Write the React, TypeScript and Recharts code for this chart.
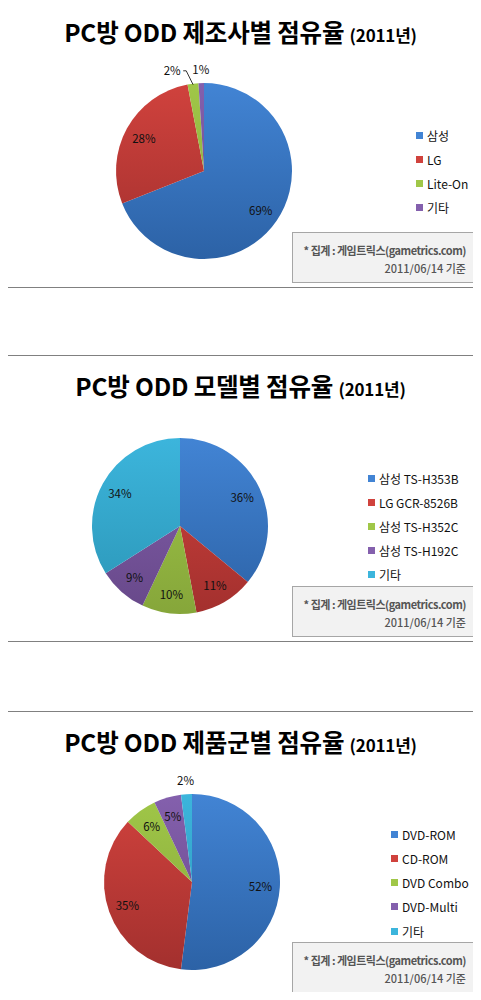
import React from 'react'
import { PieChart, Pie, Cell, Legend } from 'recharts'

// chart 1: 제조사별
const MAKER_NAMES = ['삼성', 'LG', 'Lite-On', '기타']
const MAKER_SHARE = [69, 28, 2, 1]

// chart 2: 모델별
const MODEL_NAMES = ['삼성 TS-H353B', 'LG GCR-8526B', '삼성 TS-H352C', '삼성 TS-H192C', '기타']
const MODEL_SHARE = [36, 11, 10, 9, 34]

// chart 3: 제품군별
const TYPE_NAMES = ['DVD-ROM', 'CD-ROM', 'DVD Combo', 'DVD-Multi', '기타']
const TYPE_SHARE = [52, 35, 6, 5, 2]

const TITLES = ['PC방 ODD 제조사별 점유율', 'PC방 ODD 모델별 점유율', 'PC방 ODD 제품군별 점유율']
const TITLE_YEAR = '(2011년)'
const SOURCE_LINE = '* 집계 : 게임트릭스(gametrics.com)'
const DATE_LINE = '2011/06/14 기준'

// light (top) / dark (bottom) per slice
const PALETTE = [
  ['#4284d4', '#2c62a6'],
  ['#d0423d', '#a3302e'],
  ['#a0c748', '#86a63a'],
  ['#8460ad', '#674889'],
  ['#3cb5dc', '#2b95b6'],
]

const FONT = "'Noto Sans CJK KR', 'Noto Sans', sans-serif"
const W = 481
const H = 289
const R = 88
const RADIAN = Math.PI / 180

interface Slice {
  name: string
  value: number
}

const build = (names: string[], values: number[]): Slice[] =>
  names.map((name, i) => ({ name, value: values[i] }))

const makeLabel = (data: Slice[]) => (props: any) => {
  const { cx, cy, midAngle, outerRadius, index, value } = props
  const cos = Math.cos(-midAngle * RADIAN)
  const sin = Math.sin(-midAngle * RADIAN)
  const small = value < 3
  if (!small) {
    const rr = outerRadius * 0.78
    return (
      <text
        x={cx + rr * cos}
        y={cy + rr * sin}
        textAnchor="middle"
        dominantBaseline="central"
        fontSize={11.5}
        fill="#111"
        fontFamily={FONT}
      >
        {value}%
      </text>
    )
  }
  const ro = outerRadius + 14
  let x = cx + ro * cos
  const y = cy + ro * sin
  const next = data[index + 1]
  const crowded = next && next.value < 3
  if (crowded) x -= 19
  return (
    <g>
      {crowded && (
        <polyline
          points={`${x + 11},${y + 1} ${x + 14},${y + 1} ${cx + (outerRadius - 1) * cos},${cy + (outerRadius - 1) * sin}`}
          fill="none"
          stroke="#000"
          strokeWidth={0.8}
        />
      )}
      <text
        x={x}
        y={y}
        textAnchor="middle"
        dominantBaseline="central"
        fontSize={11.5}
        fill="#111"
        fontFamily={FONT}
      >
        {value}%
      </text>
    </g>
  )
}

// legend drawn from the slice list so it keeps the data order
const makeLegend = (data: Slice[], gap: number) => () => (
  <div style={{ position: 'relative', fontFamily: FONT, fontSize: 12, color: '#111' }}>
    {data.map((d, i) => (
      <div
        key={d.name}
        style={{ position: 'absolute', top: i * gap, left: 0, height: 16, display: 'flex', alignItems: 'center', whiteSpace: 'nowrap' }}
      >
        <span style={{ display: 'inline-block', width: 7, height: 7, background: PALETTE[i][0], marginRight: 4 }} />
        <span>{d.name}</span>
      </div>
    ))}
  </div>
)

interface PanelProps {
  id: string
  top: number
  title: string
  data: Slice[]
  cx: number
  cy: number
  legendX: number
  legendY: number
  legendGap: number
}

function Panel({ id, top, title, data, cx, cy, legendX, legendY, legendGap }: PanelProps) {
  return (
    <div style={{ position: 'absolute', left: 0, top, width: W, height: H }}>
      <PieChart width={W} height={H} margin={{ top: 0, right: 0, bottom: 0, left: 0 }}>
        <defs>
          {PALETTE.map((c, i) => (
            <linearGradient
              key={i}
              id={`${id}-g${i}`}
              gradientUnits="userSpaceOnUse"
              x1={0}
              y1={cy - R}
              x2={0}
              y2={cy + R}
            >
              <stop offset="0%" stopColor={c[0]} />
              <stop offset="100%" stopColor={c[1]} />
            </linearGradient>
          ))}
        </defs>
        <Pie
          data={data}
          dataKey="value"
          nameKey="name"
          cx={cx}
          cy={cy}
          outerRadius={R}
          startAngle={90}
          endAngle={-270}
          stroke="none"
          label={makeLabel(data)}
          labelLine={false}
          isAnimationActive={false}
        >
          {data.map((d, i) => (
            <Cell key={d.name} fill={`url(#${id}-g${i})`} />
          ))}
        </Pie>
        <Legend
          layout="horizontal"
          verticalAlign="middle"
          align="center"
          content={makeLegend(data, legendGap)}
          wrapperStyle={{ left: legendX, top: legendY, width: 60, height: 10 }}
        />
      </PieChart>
      <div
        style={{
          position: 'absolute',
          left: 0,
          top: 22,
          right: 0,
          height: 20,
          textAlign: 'center',
          fontFamily: FONT,
          fontWeight: 700,
          fontSize: 24.5,
          lineHeight: '20px',
          color: '#000',
          letterSpacing: -0.2,
          whiteSpace: 'nowrap',
        }}
      >
        {title} <span style={{ fontSize: 17 }}>{TITLE_YEAR}</span>
      </div>
      <div
        style={{
          position: 'absolute',
          left: 292,
          top: 232,
          width: 183,
          height: 51,
          boxSizing: 'border-box',
          background: '#f2f2f2',
          border: '1px solid #a6a6a6',
          fontFamily: FONT,
          color: '#555',
          textAlign: 'right',
          paddingRight: 8,
          paddingTop: 8,
        }}
      >
        <div style={{ fontSize: 11, fontWeight: 700, lineHeight: '18px', letterSpacing: -0.5 }}>{SOURCE_LINE}</div>
        <div style={{ fontSize: 11, fontWeight: 500, lineHeight: '18px' }}>{DATE_LINE}</div>
      </div>
      {/* outer frame */}
      <div style={{ position: 'absolute', left: 1, top: 1, width: 1, height: H - 2, background: '#808080' }} />
      <div style={{ position: 'absolute', left: W - 2, top: 1, width: 1, height: H - 2, background: '#808080' }} />
      <div style={{ position: 'absolute', left: 1, top: 1, width: W - 2, height: 1, background: '#808080' }} />
      <div style={{ position: 'absolute', left: 1, top: H - 2, width: W - 2, height: 1, background: '#808080' }} />
    </div>
  )
}

export default function App() {
  return (
    <div style={{ position: 'relative', width: W, height: 1000, background: '#fff', margin: -8 }}>
      <Panel
        id="maker"
        top={0}
        title={TITLES[0]}
        data={build(MAKER_NAMES, MAKER_SHARE)}
        cx={204}
        cy={171}
        legendX={416}
        legendY={127}
        legendGap={24.3}
      />
      <Panel
        id="model"
        top={354}
        title={TITLES[1]}
        data={build(MODEL_NAMES, MODEL_SHARE)}
        cx={180}
        cy={172}
        legendX={368}
        legendY={116}
        legendGap={24.2}
      />
      <Panel
        id="type"
        top={710}
        title={TITLES[2]}
        data={build(TYPE_NAMES, TYPE_SHARE)}
        cx={192}
        cy={172}
        legendX={391}
        legendY={116}
        legendGap={24.3}
      />
    </div>
  )
}
